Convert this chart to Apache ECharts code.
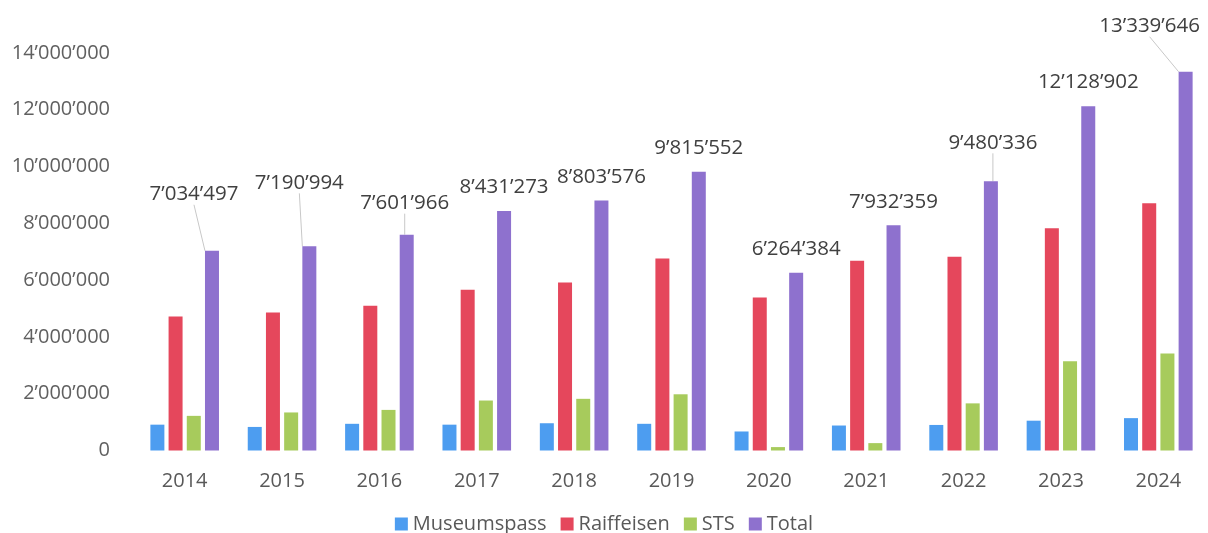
<!DOCTYPE html>
<html>
<head>
<meta charset="utf-8">
<script src="https://cdn.jsdelivr.net/npm/echarts@6/dist/echarts.min.js"></script>
<style>
html,body{margin:0;padding:0;background:#fff;}
#chart{width:1208px;height:533px;}
</style>
</head>
<body>
<div id="chart"></div>
<script>
const years = ['2014','2015','2016','2017','2018','2019','2020','2021','2022','2023','2024'];
const museumspass = [910000, 830000, 940000, 910000, 960000, 940000, 670000, 880000, 900000, 1050000, 1140000];
const raiffeisen = [4720000, 4860000, 5100000, 5660000, 5920000, 6760000, 5390000, 6680000, 6820000, 7830000, 8710000];
const sts = [1220000, 1340000, 1430000, 1760000, 1820000, 1980000, 120000, 260000, 1660000, 3140000, 3420000];
const total = [7034497, 7190994, 7601966, 8431273, 8803576, 9815552, 6264384, 7932359, 9480336, 12128902, 13339646];
const yTicks = [0, 2000000, 4000000, 6000000, 8000000, 10000000, 12000000, 14000000];

// label layout tweaks (pixel offsets for Total data labels)
const labelShift = [[-18,-33],[-10,-40],[-2,-8],[0,0],[0,0],[0,0],[0,0],[0,0],[2,-15],[0,0],[-36,-22]];
const lineIdx = [0,1,2,8,10];

function fmt(v){
  return String(Math.round(v)).replace(/\B(?=(\d{3})+(?!\d))/g, '\u2019');
}

const FONT = '"Open Sans", "Liberation Sans", sans-serif';
const chart = echarts.init(document.getElementById('chart'));
chart.setOption({
  animation: false,
  textStyle: {fontFamily: FONT},
  grid: {left: 136, right: 1, top: 53, bottom: 82.5},
  legend: {
    top: 509, left: 'center',
    itemWidth: 13, itemHeight: 13, itemGap: 14,
    icon: 'rect',
    textStyle: {fontSize: 20, color: '#595959', fontFamily: FONT},
    data: ['Museumspass','Raiffeisen','STS','Total']
  },
  xAxis: {
    type: 'category',
    data: years,
    axisLine: {show: false},
    axisTick: {show: false},
    axisLabel: {fontSize: 20, color: '#595959', margin: 21, fontFamily: FONT}
  },
  yAxis: {
    type: 'value',
    min: yTicks[0], max: yTicks[yTicks.length-1], interval: yTicks[1]-yTicks[0],
    splitLine: {show: false},
    axisLine: {show: false},
    axisTick: {show: false},
    axisLabel: {fontSize: 20, color: '#606060', margin: 26, fontFamily: FONT, formatter: fmt}
  },
  series: [
    {name: 'Museumspass', type: 'bar', data: museumspass, barWidth: 14, barGap: '30%', itemStyle: {color: '#4D9DF0'}},
    {name: 'Raiffeisen', type: 'bar', data: raiffeisen, barWidth: 14, barGap: '30%', itemStyle: {color: '#E5475C'}},
    {name: 'STS', type: 'bar', data: sts, barWidth: 14, barGap: '30%', itemStyle: {color: '#A7CB5C'}},
    {name: 'Total', type: 'bar', barWidth: 14, barGap: '30%', itemStyle: {color: '#8E71CE'},
      data: total.map((v,i) => lineIdx.includes(i) ? {value: v, labelLine: {show: true}} : v),
      label: {show: true, position: 'top', distance: 13, fontSize: 20.5, color: '#404040', fontFamily: FONT,
        formatter: p => fmt(p.value)},
      labelLine: {show: false, lineStyle: {color: '#c8c8c8', width: 1}},
      labelLayout: function(params){
        const s = labelShift[params.dataIndex];
        return {dx: s[0], dy: s[1]};
      }
    }
  ]
});
</script>
</body>
</html>
